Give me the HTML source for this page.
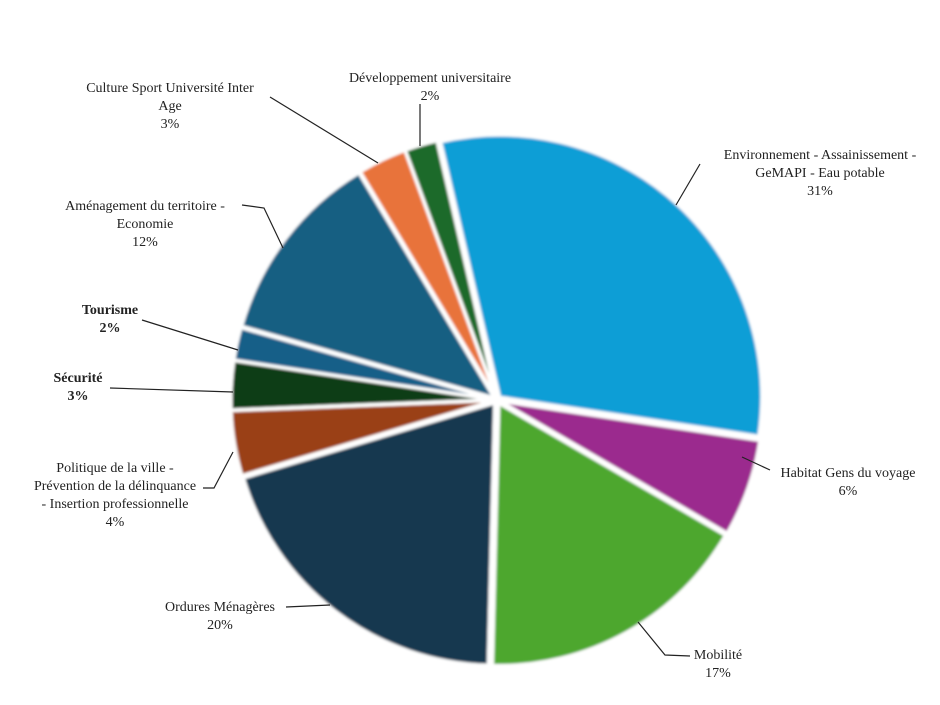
<!DOCTYPE html>
<html><head><meta charset="utf-8"><style>
html,body{margin:0;padding:0;background:#fff}
svg{display:block}
text{font-family:"Liberation Serif",serif;font-size:14px;fill:#222;text-anchor:middle}
</style></head><body>
<svg width="940" height="705" viewBox="0 0 940 705" xmlns="http://www.w3.org/2000/svg">
<defs><filter id="b" x="-5%" y="-5%" width="110%" height="110%"><feGaussianBlur stdDeviation="1.2"/></filter></defs>
<g id="pie" filter="url(#b)"></g>
<g stroke="#222" stroke-width="1.2" fill="none">
<polyline points="270,97 378,163"/>
<polyline points="420,104 420,146"/>
<polyline points="700,164 676,205"/>
<polyline points="242,205 264,208 283,248"/>
<polyline points="142,320 238,350"/>
<polyline points="110,388 233,392"/>
<polyline points="203,488 214,488 233,452"/>
<polyline points="286,607 330,605"/>
<polyline points="690,656 665,655 638,622"/>
<polyline points="770,470 742,457"/>
</g>
<text x="170" y="92">Culture  Sport Université  Inter</text>
<text x="170" y="110">Age</text>
<text x="170" y="128">3%</text>
<text x="430" y="82">Développement universitaire</text>
<text x="430" y="100">2%</text>
<text x="820" y="159">Environnement  - Assainissement  -</text>
<text x="820" y="177">GeMAPI - Eau potable</text>
<text x="820" y="195">31%</text>
<text x="145" y="210">Aménagement  du territoire  -</text>
<text x="145" y="228">Economie</text>
<text x="145" y="246">12%</text>
<text x="110" y="314" font-weight="bold">Tourisme</text>
<text x="110" y="332" font-weight="bold">2%</text>
<text x="78" y="382" font-weight="bold">Sécurité</text>
<text x="78" y="400" font-weight="bold">3%</text>
<text x="115" y="472">Politique de la ville  -</text>
<text x="115" y="490">Prévention de la délinquance</text>
<text x="115" y="508">- Insertion professionnelle</text>
<text x="115" y="526">4%</text>
<text x="220" y="611">Ordures Ménagères</text>
<text x="220" y="629">20%</text>
<text x="718" y="659">Mobilité</text>
<text x="718" y="677">17%</text>
<text x="848" y="477">Habitat  Gens du voyage</text>
<text x="848" y="495">6%</text>
</svg>
<script>
var data=[[31,"#119ed6"],[6,"#9b2a8e"],[17,"#4ea72e"],[20,"#12384f"],[4,"#9a3f12"],[3,"#103d17"],[2,"#165f88"],[12,"#175f82"],[3,"#e8733a"],[2,"#1b6b2a"]];
var cx=497,cy=400,r=262,a=-13,g=document.getElementById("pie"),s="";
function pt(ang,rr,ox,oy){var t=(ang-90)*Math.PI/180;return [ox+rr*Math.cos(t),oy+rr*Math.sin(t)];}
data.forEach(function(d){var sw=d[0]*3.6,mid=a+sw/2,o=pt(mid,4,cx,cy);
var p1=pt(a,r,o[0],o[1]),p2=pt(a+sw,r,o[0],o[1]);
s+='<path d="M'+o[0]+','+o[1]+' L'+p1[0]+','+p1[1]+' A'+r+','+r+' 0 '+(sw>180?1:0)+' 1 '+p2[0]+','+p2[1]+' Z" fill="'+d[1]+'" stroke="#fff" stroke-width="3"/>';
a+=sw;});
g.innerHTML=s;
</script>
</body></html>
